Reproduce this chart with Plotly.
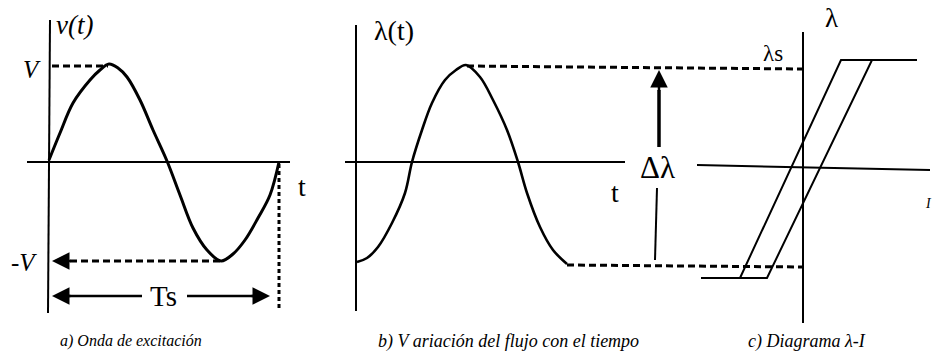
import plotly.graph_objects as go

# (a) excitation voltage v(t) over one period
va_t = [49, 60, 73, 90, 100, 109, 118, 127, 140, 153, 167, 180, 193, 207, 221, 233, 245, 258, 270, 279]
va_v = [160, 133, 103, 80, 70, 64, 68, 77, 100, 130, 161, 195, 228, 250, 261, 254, 240, 218, 195, 162]

# (b) flux linkage lambda(t)
lb_t = [357, 367, 378, 392, 405, 412, 422, 432, 445, 456, 466, 480, 493, 507, 518, 527, 540, 553, 567]
lb_v = [262, 258, 247, 223, 193, 162, 130, 103, 80, 70, 65, 77, 100, 130, 162, 193, 227, 250, 264]

# (c) saturated hysteresis loop lambda-I
loop_i = [701, 767, 872, 917, 841, 740]
loop_l = [278, 278, 60, 60, 60, 278]

BLACK = "#000000"
FONT = "Liberation Serif"

fig = go.Figure()


def seg(xs, ys, width=2, dash=None, shape="linear"):
    fig.add_trace(go.Scatter(
        x=xs, y=ys, mode="lines",
        line=dict(color=BLACK, width=width, dash=dash, shape=shape),
        hoverinfo="skip", showlegend=False,
    ))


# axes of panel (a)
seg([50, 48], [20, 313], width=2)
seg([27, 290], [162, 162], width=2)
# axes of panel (b)
seg([356, 356], [25, 311], width=2)
seg([345, 625], [162, 162], width=2)
# axes of panel (c)
seg([803, 803], [32, 323], width=2)
seg([697, 930], [165, 170], width=2)

# waveforms
seg(va_t, va_v, width=3, shape="spline")
seg(lb_t, lb_v, width=2.6, shape="spline")
seg(loop_i, loop_l, width=2)

# reference dashed lines
seg([52, 108], [66, 66], width=3, dash="7px,4px")
seg([70, 221], [261, 261], width=3, dash="7px,4px")
seg([279, 279], [164, 311], width=3, dash="4px,3px")
seg([467, 802], [66, 69], width=3, dash="7px,4px")
seg([567, 802], [265, 267], width=3, dash="7px,4px")

# Ts period arrow shafts
seg([62, 142], [296, 296], width=2.5)
seg([187, 258], [296, 296], width=2.5)
# delta-lambda shafts
seg([659, 659], [90, 147], width=3.5)
seg([657, 655], [188, 260], width=2)

arrows = [
    dict(x=52, y=261, ax=72, ay=261),
    dict(x=52, y=296, ax=72, ay=296),
    dict(x=270, y=296, ax=250, ay=296),
    dict(x=659, y=70, ax=659, ay=92),
]
for a in arrows:
    fig.add_annotation(
        x=a["x"], y=a["y"], ax=a["ax"], ay=a["ay"],
        xref="x", yref="y", axref="x", ayref="y",
        text="", showarrow=True, arrowhead=2, arrowsize=1.4,
        arrowwidth=2.5, arrowcolor=BLACK,
    )

labels = [
    dict(x=54, y=25, text="<i>v(t)</i>", size=27, xanchor="left"),
    dict(x=43, y=69, text="<i>V</i>", size=25, xanchor="right"),
    dict(x=39, y=262, text="<i>-V</i>", size=25, xanchor="right"),
    dict(x=302, y=186, text="t", size=28, xanchor="center"),
    dict(x=163, y=296, text="Ts", size=29, xanchor="center"),
    dict(x=372, y=30, text="λ(t)", size=28, xanchor="left"),
    dict(x=615, y=192, text="t", size=28, xanchor="center"),
    dict(x=657, y=167, text="Δλ", size=31, xanchor="center"),
    dict(x=773, y=53, text="λs", size=23, xanchor="center"),
    dict(x=831, y=18, text="λ", size=27, xanchor="center"),
    dict(x=934, y=203, text="<i>I</i>", size=14, xanchor="right"),
    dict(x=131, y=341, text="<i>a) Onda de excitación</i>", size=16, xanchor="center"),
    dict(x=508, y=341, text="<i>b) V ariación del flujo con el tiempo</i>", size=18, xanchor="center"),
    dict(x=807, y=341, text="<i>c) Diagrama λ-I</i>", size=18, xanchor="center"),
]
for l in labels:
    fig.add_annotation(
        x=l["x"], y=l["y"], xref="x", yref="y", text=l["text"],
        showarrow=False, xanchor=l["xanchor"], yanchor="middle",
        font=dict(family=FONT, size=l["size"], color=BLACK),
    )

fig.update_xaxes(range=[0, 934], visible=False, fixedrange=True)
fig.update_yaxes(range=[363, 0], visible=False, fixedrange=True)
fig.update_layout(
    width=934, height=363,
    margin=dict(l=0, r=0, t=0, b=0),
    paper_bgcolor="white", plot_bgcolor="white",
    showlegend=False,
    font=dict(family=FONT),
)

fig.write_html("out.html")
